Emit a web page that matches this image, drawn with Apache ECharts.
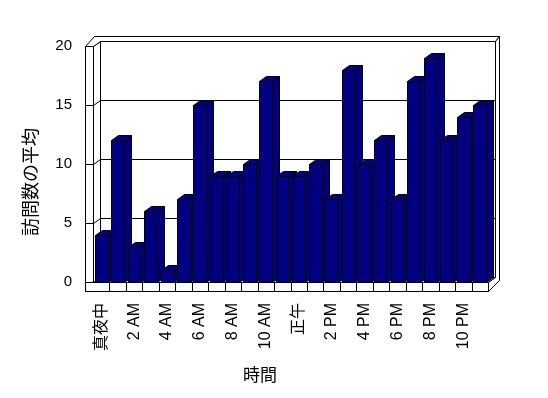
<!DOCTYPE html>
<html>
<head>
<meta charset="utf-8">
<title>訪問数の平均</title>
<script src="https://cdn.jsdelivr.net/npm/echarts@6/dist/echarts.min.js"></script>
<style>
  html, body { margin: 0; background: #fff; }
  #chart { width: 548px; height: 398px; }
</style>
</head>
<body>
<div id="chart"></div>
<script>
// 時間帯 (24 区分, ラベルは 2 時間おき)
const hours = [
    '真夜中', '1 AM', '2 AM', '3 AM', '4 AM', '5 AM', '6 AM', '7 AM', '8 AM', '9 AM', '10 AM', '11 AM',
    '正午', '1 PM', '2 PM', '3 PM', '4 PM', '5 PM', '6 PM', '7 PM', '8 PM', '9 PM', '10 PM', '11 PM'
];
// 訪問数の平均
const visits = [4, 12, 3, 6, 1, 7, 15, 9, 9, 10, 17, 9, 9, 10, 7, 18, 10, 12, 7, 17, 19, 12, 14, 15];
// 縦軸の目盛り
const yMin = 0, yMax = 20, yStep = 5;
const gridTicks = [5, 10, 15];

const FONT = "'Liberation Sans', 'Noto Sans CJK JP', sans-serif";
const NAVY = '#000080';
const DX = 7, DY = -5;      // 奥行き
const WALL = 8, FLOOR = 9;  // 壁・床の厚み

const px = v => Math.round(v) + 0.5;
const line = (x1, y1, x2, y2) => ({
    type: 'line',
    shape: { x1: px(x1), y1: px(y1), x2: px(x2), y2: px(y2) },
    style: { stroke: '#000', lineWidth: 1 }
});
const poly = pts => ({
    type: 'polygon',
    shape: { points: pts.map(p => [px(p[0]), px(p[1])]) },
    style: { fill: '#fff', stroke: '#000', lineWidth: 1 }
});

// 壁・床・目盛り線
function renderFrame(params, api) {
    const cs = params.coordSys;
    const band = api.size([1, 0])[0];
    const L = cs.x, R = cs.x + cs.width, T = cs.y, B = cs.y + cs.height;
    const kids = [
        poly([[L + DX, T + DY], [R + DX, T + DY], [R + DX, B + DY], [L + DX, B + DY]]),   // 奥の壁
        poly([[L, T], [L + DX, T + DY], [L + DX, B + DY], [L, B]]),                      // 左壁の内側
        poly([[L, B], [L + DX, B + DY], [R + DX, B + DY], [R, B]])                       // 床の上面
    ];
    gridTicks.forEach(v => {
        const y = api.coord([0, v])[1];
        kids.push(line(L, y, L + DX, y + DY));
        kids.push(line(L + DX, y + DY, R + DX, y + DY));
    });
    kids.push(poly([[L - WALL, T], [L, T], [L, B + FLOOR], [L - WALL, B + FLOOR]]));      // 左壁の正面
    kids.push(poly([[L - WALL, B], [R, B], [R, B + FLOOR], [L - WALL, B + FLOOR]]));      // 床の正面
    for (let k = 1; k < hours.length; k++) {
        kids.push(line(L + k * band, B, L + k * band, B + FLOOR));
    }
    gridTicks.forEach(v => {
        const y = api.coord([0, v])[1];
        kids.push(line(L - WALL, y, L, y));
    });
    kids.push(poly([[L - WALL, T], [L + 1, T - 10], [R + DX + 4, T - 10], [R + DX, T + DY], [L + DX, T + DY], [L, T]]));
    kids.push(poly([[R + DX, T + DY], [R + DX + 4, T - 10], [R + DX + 4, B - 2], [R, B + FLOOR], [R, B], [R + DX, B + DY]]));
    return { type: 'group', children: kids };
}

// 3D 風の棒
function renderBar(params, api) {
    const band = api.size([1, 0])[0];
    const top = api.coord([api.value(0), api.value(1)]);
    const base = api.coord([api.value(0), 0]);
    const xl = top[0] - band / 2 + 1.7;
    const xr = xl + 13;
    const yt = top[1], yb = base[1];
    const st = { fill: NAVY, stroke: '#000', lineWidth: 1 };
    const P = pts => ({ type: 'polygon', shape: { points: pts.map(p => [px(p[0]), px(p[1])]) }, style: st });
    return {
        type: 'group',
        children: [
            P([[xr, yt], [xr + DX, yt + DY], [xr + DX, yb + DY], [xr, yb]]),
            P([[xl, yt], [xl + DX, yt + DY], [xr + DX, yt + DY], [xr, yt]]),
            P([[xl, yt], [xr, yt], [xr, yb], [xl, yb]])
        ]
    };
}

const chart = echarts.init(document.getElementById('chart'));
chart.setOption({
    backgroundColor: '#fff',
    animation: false,
    grid: { left: 93, right: 60, top: 46, bottom: 116 },
    xAxis: {
        type: 'category',
        data: hours,
        axisLine: { show: false },
        axisTick: { show: false },
        axisLabel: {
            interval: 1,
            rotate: 90,
            margin: 21,
            hideOverlap: false,
            color: '#000',
            fontSize: 16,
            fontFamily: FONT
        }
    },
    yAxis: {
        type: 'value',
        min: yMin,
        max: yMax,
        interval: yStep,
        axisLine: { show: false },
        axisTick: { show: false },
        splitLine: { show: false },
        axisLabel: { margin: 21, color: '#000', fontSize: 15, fontFamily: FONT }
    },
    graphic: [
        {
            type: 'text', x: 260, y: 376,
            style: { text: '時間', fontSize: 17, fontFamily: FONT, fill: '#000', align: 'center', verticalAlign: 'middle' }
        },
        {
            type: 'text', x: 32, y: 182, rotation: Math.PI / 2,
            style: { text: '訪問数の平均', fontSize: 18, fontFamily: FONT, fill: '#000', align: 'center', verticalAlign: 'middle' }
        }
    ],
    series: [
        {
            type: 'custom',
            z: 1,
            silent: true,
            renderItem: renderFrame,
            data: [[0, 0]],
            encode: { x: 0, y: 1 }
        },
        {
            name: '訪問数の平均',
            type: 'custom',
            z: 2,
            renderItem: renderBar,
            data: visits.map((v, i) => [i, v]),
            encode: { x: 0, y: 1 }
        }
    ]
});
</script>
</body>
</html>
